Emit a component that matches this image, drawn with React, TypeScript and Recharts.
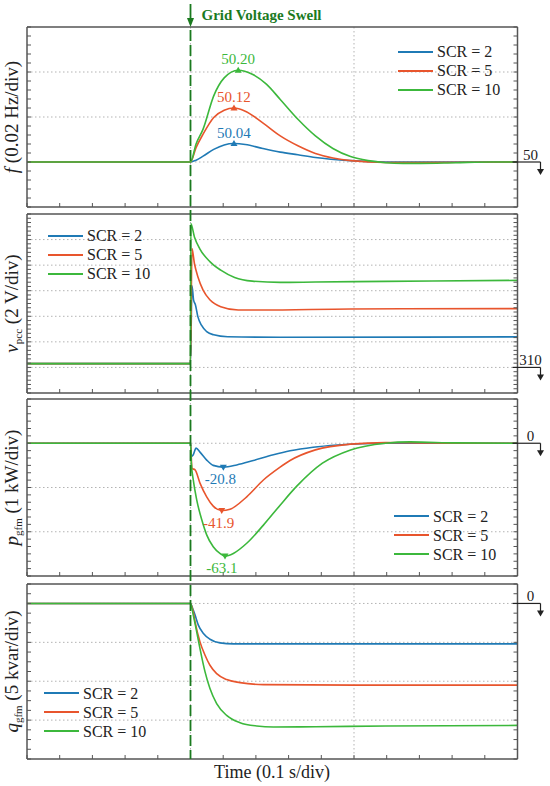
import { CartesianGrid, Legend, Line, LineChart, ReferenceDot, XAxis, YAxis } from "recharts";

const SERIF = "'Liberation Serif', 'Times New Roman', serif";
const SERIES_NAMES = ["SCR = 2", "SCR = 5", "SCR = 10"];
const COLORS = ["#1f7ab5", "#e8552d", "#3cb83c"];
const EVENT_COLOR = "#1b7a1f";
const INK = "#222";

// time axis (s)
const T_DOMAIN: [number, number] = [0, 0.3];
const T_GRID = [0.1, 0.2];
const EVENT_T = 0.1;

// frequency (Hz)
const F_SCR2: [number, number][] = [
  [0, 50], [0.1, 50], [0.1034, 50.004], [0.1077, 50.013], [0.1142, 50.028], [0.1206, 50.038],
  [0.1266, 50.041], [0.1335, 50.039], [0.1442, 50.03], [0.1549, 50.022], [0.1657, 50.016],
  [0.1764, 50.01], [0.1979, 50.003], [0.2193, 50], [0.3, 50],
];
const F_SCR5: [number, number][] = [
  [0, 50], [0.1, 50], [0.1034, 50.032], [0.1077, 50.062], [0.1142, 50.099], [0.1206, 50.115],
  [0.1266, 50.12], [0.1335, 50.113], [0.1442, 50.087], [0.1549, 50.058], [0.1657, 50.036],
  [0.1764, 50.019], [0.1871, 50.009], [0.1979, 50.003], [0.2193, 49.999], [0.2408, 49.999], [0.3, 50],
];
const F_SCR10: [number, number][] = [
  [0, 50], [0.1, 50], [0.1034, 50.04], [0.1077, 50.073], [0.1142, 50.147], [0.1206, 50.187],
  [0.1292, 50.204], [0.1378, 50.195], [0.1464, 50.173], [0.1549, 50.139], [0.1657, 50.095],
  [0.1764, 50.058], [0.1871, 50.03], [0.1979, 50.012], [0.2086, 50.003], [0.2193, 49.9985],
  [0.23, 49.997], [0.2408, 49.997], [0.2622, 49.9985], [0.2837, 50], [0.3, 50],
];
const F_PEAK_T = [0.1266, 0.1266, 0.1292];
const F_PEAK_V = [50.041, 50.12, 50.204];
const F_PEAK_TEXT = ["50.04", "50.12", "50.20"];

// PCC voltage (V)
const V_SCR2: [number, number][] = [
  [0, 310.3], [0.1, 310.3], [0.1009, 316.39], [0.1019, 315.27], [0.103, 314.9], [0.1045, 313.97],
  [0.1067, 313.3], [0.1099, 312.8], [0.1142, 312.55], [0.1227, 312.4], [0.1549, 312.36], [0.3, 312.39],
];
const V_SCR5: [number, number][] = [
  [0, 310.3], [0.1, 310.3], [0.1009, 319.3], [0.1024, 318.13], [0.1045, 317.09], [0.1077, 316.05],
  [0.112, 315.27], [0.1185, 314.75], [0.1292, 314.49], [0.1442, 314.49], [0.1979, 314.57], [0.3, 314.6],
];
const V_SCR10: [number, number][] = [
  [0, 310.3], [0.1, 310.3], [0.1002, 321.25], [0.1024, 320.21], [0.1056, 319.3], [0.112, 318.26],
  [0.1185, 317.61], [0.127, 317.04], [0.1378, 316.75], [0.1549, 316.65], [0.1764, 316.68],
  [0.2193, 316.73], [0.3, 316.81],
];

// GFM active power (div)
const P_SCR2: [number, number][] = [
  [0, 0], [0.1, 0], [0.1005, -0.3], [0.1017, -0.26], [0.1034, -0.11], [0.1058, -0.2], [0.1099, -0.38],
  [0.1139, -0.5], [0.1201, -0.54], [0.1283, -0.49], [0.1384, -0.39], [0.1507, -0.26], [0.1609, -0.17],
  [0.175, -0.09], [0.19, -0.04], [0.205, -0.01], [0.22, 0], [0.3, 0],
];
const P_SCR5: [number, number][] = [
  [0, 0], [0.1, 0], [0.1009, -0.57], [0.1028, -0.6], [0.1058, -0.9], [0.1099, -1.21], [0.1139, -1.42],
  [0.1191, -1.52], [0.1242, -1.49], [0.1344, -1.21], [0.1446, -0.83], [0.1548, -0.54], [0.1609, -0.39],
  [0.1764, -0.15], [0.1979, -0.02], [0.2193, 0.015], [0.2408, 0.008], [0.2622, 0], [0.3, 0],
];
const P_SCR10: [number, number][] = [
  [0, 0], [0.1, 0], [0.1005, -0.45], [0.1017, -0.83], [0.1038, -1.28], [0.1069, -1.73], [0.1099, -2.07],
  [0.1139, -2.34], [0.118, -2.49], [0.1211, -2.55], [0.1262, -2.49], [0.1344, -2.26], [0.1446, -1.85],
  [0.1548, -1.4], [0.165, -0.97], [0.1807, -0.45], [0.1979, -0.15], [0.2193, 0],
  [0.2343, 0.03], [0.2622, 0.008], [0.3, 0],
];
const P_PEAK_T = [0.1201, 0.1191, 0.1211];
const P_PEAK_V = [-0.54, -1.52, -2.55];
const P_PEAK_TEXT = ["-20.8", "-41.9", "-63.1"];

// GFM reactive power (kvar)
const Q_SCR2: [number, number][] = [
  [0, 0], [0.1, 0], [0.1017, -0.86], [0.1028, -1.5], [0.1048, -2.79], [0.1079, -3.87], [0.1119, -4.6],
  [0.118, -5.07], [0.1262, -5.2], [0.3, -5.2],
];
const Q_SCR5: [number, number][] = [
  [0, 0], [0.1, 0], [0.1017, -1.1], [0.1028, -2.36], [0.1058, -4.94], [0.1089, -6.66], [0.1119, -7.95],
  [0.116, -9.02], [0.1221, -9.79], [0.1303, -10.18], [0.1446, -10.44], [0.2, -10.5], [0.3, -10.5],
];
const Q_SCR10: [number, number][] = [
  [0, 0], [0.1, 0], [0.1017, -1.5], [0.1038, -3.65], [0.1058, -5.8], [0.1089, -8.8], [0.1119, -10.95],
  [0.116, -12.89], [0.1221, -14.39], [0.1303, -15.33], [0.1405, -15.76], [0.1507, -15.89],
  [0.1764, -15.85], [0.2193, -15.75], [0.3, -15.68],
];

const range = (lo: number, hi: number, step: number) =>
  Array.from({ length: Math.round((hi - lo) / step) + 1 }, (_, i) => +(lo + i * step).toFixed(6));

const T_TICKS = range(0, 0.3, 0.02);

const W = 550;
const PLOT_LEFT = 27;
const PLOT_RIGHT = 517.5;
const BOTTOM = 759;

type Panel = {
  top: number;
  height: number;
  domain: [number, number];
  ticks: number[];
  grid: number[];
  series: [number, number][][];
  edge: { v: number; text: string };
  legend: { left: number; top: number };
  label: { sym: string; sub: string; rest: string };
  peaks?: { t: number[]; v: number[]; text: string[]; up: boolean };
};

const PANELS: Panel[] = [
  {
    top: 27, height: 180, domain: [49.9, 50.3], ticks: range(49.9, 50.3, 0.02), grid: [50, 50.1, 50.2],
    series: [F_SCR2, F_SCR5, F_SCR10], edge: { v: 50, text: "50" }, legend: { left: 398, top: 51.7 },
    label: { sym: "f", sub: "", rest: " (0.02 Hz/div)" },
    peaks: { t: F_PEAK_T, v: F_PEAK_V, text: F_PEAK_TEXT, up: true },
  },
  {
    top: 214, height: 179, domain: [308, 322], ticks: range(308, 322, 1 / 3), grid: [310, 312, 314, 316, 318, 320],
    series: [V_SCR2, V_SCR5, V_SCR10], edge: { v: 310, text: "310" }, legend: { left: 48, top: 235.7 },
    label: { sym: "v", sub: "pcc", rest: " (2 V/div)" },
  },
  {
    top: 399, height: 177, domain: [-3, 1], ticks: range(-3, 1, 1 / 6), grid: [-2, -1, 0],
    series: [P_SCR2, P_SCR5, P_SCR10], edge: { v: 0, text: "0" }, legend: { left: 394, top: 516 },
    label: { sym: "p", sub: "gfm", rest: " (1 kW/div)" },
    peaks: { t: P_PEAK_T, v: P_PEAK_V, text: P_PEAK_TEXT, up: false },
  },
  {
    top: 584, height: 175, domain: [-20, 2.5], ticks: range(-20, 2.5, 1.25), grid: [-15, -10, -5, 0],
    series: [Q_SCR2, Q_SCR5, Q_SCR10], edge: { v: 0, text: "0" }, legend: { left: 44, top: 693.3 },
    label: { sym: "q", sub: "gfm", rest: " (5 kvar/div)" },
  },
];

const AXIS_LINE = { stroke: "#555", strokeWidth: 1.5 };
const TICK_LINE = { stroke: "#555", strokeWidth: 1 };

// tick labels are not shown, only the inward tick marks
const NoLabel = () => <g />;

function LegendBox() {
  return (
    <div style={{ fontFamily: SERIF, fontSize: 16, color: INK }}>
      {SERIES_NAMES.map((name, i) => (
        <div key={name} style={{ display: "flex", alignItems: "center", height: 19 }}>
          <svg width={35} height={4} style={{ marginRight: 4 }}>
            <line x1={0} x2={35} y1={2} y2={2} stroke={COLORS[i]} strokeWidth={2} />
          </svg>
          <span style={{ lineHeight: "19px" }}>{name}</span>
        </div>
      ))}
    </div>
  );
}

function PeakMark({ cx, cy, color, text, up }: any) {
  const tri = up
    ? `M${cx - 3.5},${cy + 2.5}L${cx + 3.5},${cy + 2.5}L${cx},${cy - 3.5}Z`
    : `M${cx - 3.5},${cy - 2.5}L${cx + 3.5},${cy - 2.5}L${cx},${cy + 3.5}Z`;
  return (
    <g>
      <path d={tri} fill={color} />
      <text
        x={up ? cx : cx - 3}
        y={up ? cy - 6 : cy + 17}
        textAnchor="middle"
        fill={color}
        fontSize={15}
        fontFamily={SERIF}
      >
        {text}
      </text>
    </g>
  );
}

function EdgeMark({ cx, cy, text }: any) {
  return (
    <g>
      <line x1={cx - 5} x2={cx + 23} y1={cy} y2={cy} stroke={INK} strokeWidth={1.2} />
      <line x1={cx + 23} x2={cx + 23} y1={cy} y2={cy + 9} stroke={INK} strokeWidth={1.2} />
      <path d={`M${cx + 19.5},${cy + 7}L${cx + 26.5},${cy + 7}L${cx + 23},${cy + 13}Z`} fill={INK} />
      <text x={cx + 13} y={cy - 2} textAnchor="middle" fontSize={15} fontFamily={SERIF} fill={INK}>
        {text}
      </text>
    </g>
  );
}

function PanelChart({ p }: { p: Panel }) {
  const chartTop = p.top - 6;
  const axisProps = {
    type: "number" as const,
    tick: NoLabel,
    tickSize: -4,
    interval: 0 as const,
    allowDataOverflow: true,
    axisLine: AXIS_LINE,
    tickLine: TICK_LINE,
  };
  return (
    <div style={{ position: "absolute", left: 0, top: chartTop }}>
      <LineChart width={W} height={p.height + 12} margin={{ top: 5, bottom: 5, left: PLOT_LEFT - 1, right: W - PLOT_RIGHT - 1 }}>
        <CartesianGrid horizontalValues={p.grid} verticalValues={T_GRID} stroke="#b3b3b3" strokeDasharray="1.5 2.5" />
        <XAxis dataKey="t" domain={T_DOMAIN} ticks={T_TICKS} height={1} {...axisProps} />
        <XAxis xAxisId="top" orientation="top" domain={T_DOMAIN} ticks={T_TICKS} height={1} {...axisProps} />
        <YAxis domain={p.domain} ticks={p.ticks} width={1} {...axisProps} />
        <YAxis yAxisId="right" orientation="right" domain={p.domain} ticks={p.ticks} width={1} {...axisProps} />
        {p.series.map((pts, i) => (
          <Line
            key={SERIES_NAMES[i]}
            name={SERIES_NAMES[i]}
            data={pts.map(([t, v]) => ({ t, v }))}
            dataKey="v"
            type="monotone"
            stroke={COLORS[i]}
            strokeWidth={1.6}
            dot={false}
            isAnimationActive={false}
          />
        ))}
        {p.peaks &&
          p.peaks.t.map((t, i) => (
            <ReferenceDot
              key={`peak-${i}`}
              x={t}
              y={p.peaks!.v[i]}
              ifOverflow="visible"
              shape={(props: any) => <PeakMark {...props} color={COLORS[i]} text={p.peaks!.text[i]} up={p.peaks!.up} />}
            />
          ))}
        <ReferenceDot
          x={T_DOMAIN[1]}
          y={p.edge.v}
          ifOverflow="visible"
          shape={(props: any) => <EdgeMark {...props} text={p.edge.text} />}
        />
        <Legend
          layout="vertical"
          align="center"
          verticalAlign="middle"
          content={<LegendBox />}
          wrapperStyle={{ left: p.legend.left, top: p.legend.top - 9.5 - chartTop, width: "auto", height: "auto" }}
        />
      </LineChart>
    </div>
  );
}

export default function App() {
  const eventX = PLOT_LEFT + ((EVENT_T - T_DOMAIN[0]) / (T_DOMAIN[1] - T_DOMAIN[0])) * (PLOT_RIGHT - PLOT_LEFT);
  return (
    <div style={{ position: "absolute", left: 0, top: 0, width: W, height: 786, background: "#fff", fontFamily: SERIF }}>
      {PANELS.map((p, i) => (
        <PanelChart key={i} p={p} />
      ))}
      <svg width={W} height={786} style={{ position: "absolute", left: 0, top: 0, pointerEvents: "none" }}>
        <line x1={eventX} x2={eventX} y1={4} y2={20} stroke={EVENT_COLOR} strokeWidth={1.8} />
        <path d={`M${eventX - 3.5},${18}L${eventX + 3.5},${18}L${eventX},${27}Z`} fill={EVENT_COLOR} />
        <line x1={eventX} x2={eventX} y1={30} y2={BOTTOM} stroke={EVENT_COLOR} strokeWidth={1.8} strokeDasharray="11 4" />
        <text x={201.5} y={20} fontSize={15} fontWeight="bold" fill={EVENT_COLOR} fontFamily={SERIF}>
          Grid Voltage Swell
        </text>
        {PANELS.map((p, i) => (
          <text
            key={i}
            transform={`translate(18, ${p.top + p.height / 2}) rotate(-90)`}
            textAnchor="middle"
            fontSize={19}
            fill={INK}
            fontFamily={SERIF}
          >
            <tspan fontStyle="italic">{p.label.sym}</tspan>
            {p.label.sub && (
              <tspan fontSize={11} dy={4}>
                {p.label.sub}
              </tspan>
            )}
            <tspan dy={p.label.sub ? -4 : 0}>{p.label.rest}</tspan>
          </text>
        ))}
        <text x={272} y={778} textAnchor="middle" fontSize={18} fill={INK} fontFamily={SERIF}>
          Time (0.1 s/div)
        </text>
      </svg>
    </div>
  );
}
